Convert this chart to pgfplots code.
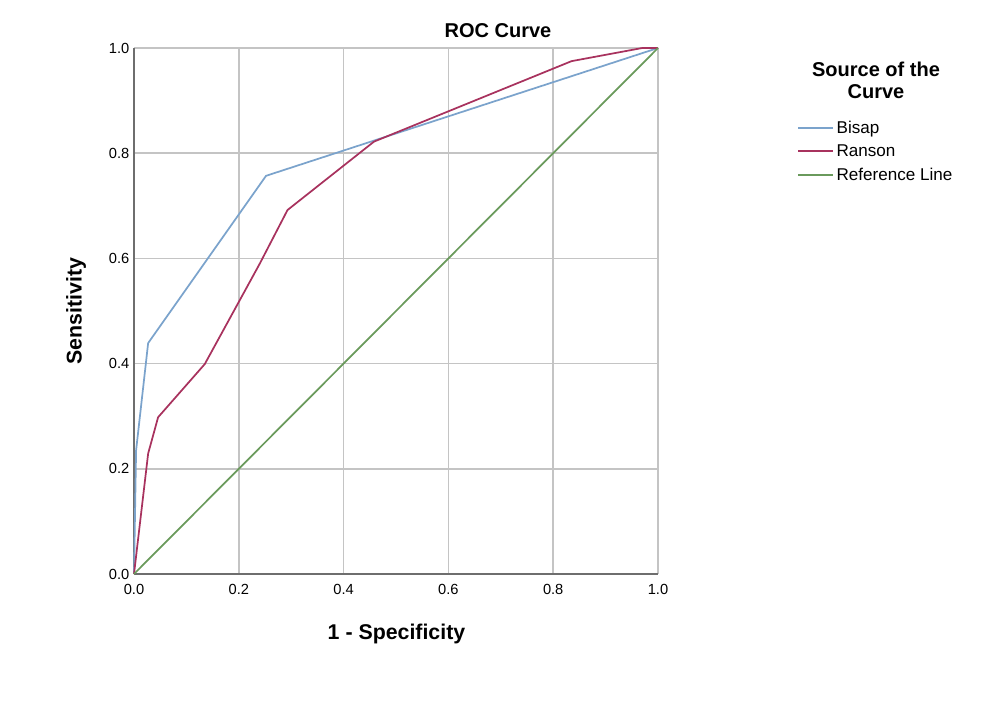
\documentclass[border=0pt]{standalone}
\usepackage{pgfplots}
\pgfplotsset{compat=1.18}
\usepackage{fontspec}
\setmainfont{Liberation Sans}
\definecolor{bisap}{HTML}{7BA3CC}
\definecolor{ranson}{HTML}{A8325E}
\definecolor{refl}{HTML}{6A9A5C}
\definecolor{gridgray}{HTML}{C4C4C4}
\definecolor{axgray}{HTML}{6E6E6E}
\begin{document}
\begin{tikzpicture}[x=0.75pt,y=0.75pt]
\path[use as bounding box] (-134,-127) rectangle (852,574);
\begin{axis}[
  at={(0,0)}, anchor=south west,
  scale only axis, width=393pt, height=394.5pt,
  xmin=0, xmax=1, ymin=0, ymax=1,
  xtick={0,0.2,0.4,0.6,0.8,1}, ytick={0,0.2,0.4,0.6,0.8,1},
  xticklabel style={yshift=-4pt, /pgf/number format/.cd, fixed, fixed zerofill, precision=1},
  yticklabel style={/pgf/number format/.cd, fixed, fixed zerofill, precision=1},
  /pgf/number format/assume math mode=true,
  tick label style={font=\fontsize{11}{13}\selectfont},
  major tick length=0pt,
  grid=major,
  major grid style={draw=gridgray, line width=1.1pt},
  axis x line*=bottom, axis y line*=left,
  axis line style={draw=axgray, line width=1.1pt, -},
  clip=false,
  legend style={at={(1.2653,0.867)}, anchor=north west, draw=none, fill=none,
     font=\fontsize{12.8}{14}\selectfont, row sep=3.0pt, inner sep=0pt},
  legend cell align=left,
  legend image code/.code={\draw[#1, line width=1.5pt] (0pt,0pt) -- (26pt,0pt);},
]
\addplot[bisap, line width=1.3pt] coordinates {(0,0) (0.004,0.235) (0.027,0.439) (0.252,0.757) (1,1)};
\addlegendentry{Bisap}
\addplot[ranson, line width=1.3pt] coordinates {(0,0) (0.027,0.229) (0.046,0.298) (0.135,0.399) (0.24,0.59) (0.293,0.692) (0.458,0.822) (0.835,0.975) (0.97,1) (1,1)};
\addlegendentry{Ranson}
\addplot[refl, line width=1.3pt] coordinates {(0,0) (1,1)};
\addlegendentry{Reference Line}
\end{axis}
\node[anchor=base, font=\fontsize{15}{18}\selectfont\bfseries] at (364,536) {ROC Curve};
\node[anchor=base, font=\fontsize{16}{19}\selectfont\bfseries] at (262.5,-65) {1 - Specificity};
\node[rotate=90, font=\fontsize{16}{19}\selectfont\bfseries] at (-58,263) {Sensitivity};
\node[anchor=base, font=\fontsize{15}{18}\selectfont\bfseries] at (742,497) {Source of the};
\node[anchor=base, font=\fontsize{15}{18}\selectfont\bfseries] at (742,475) {Curve};
\end{tikzpicture}
\end{document}
